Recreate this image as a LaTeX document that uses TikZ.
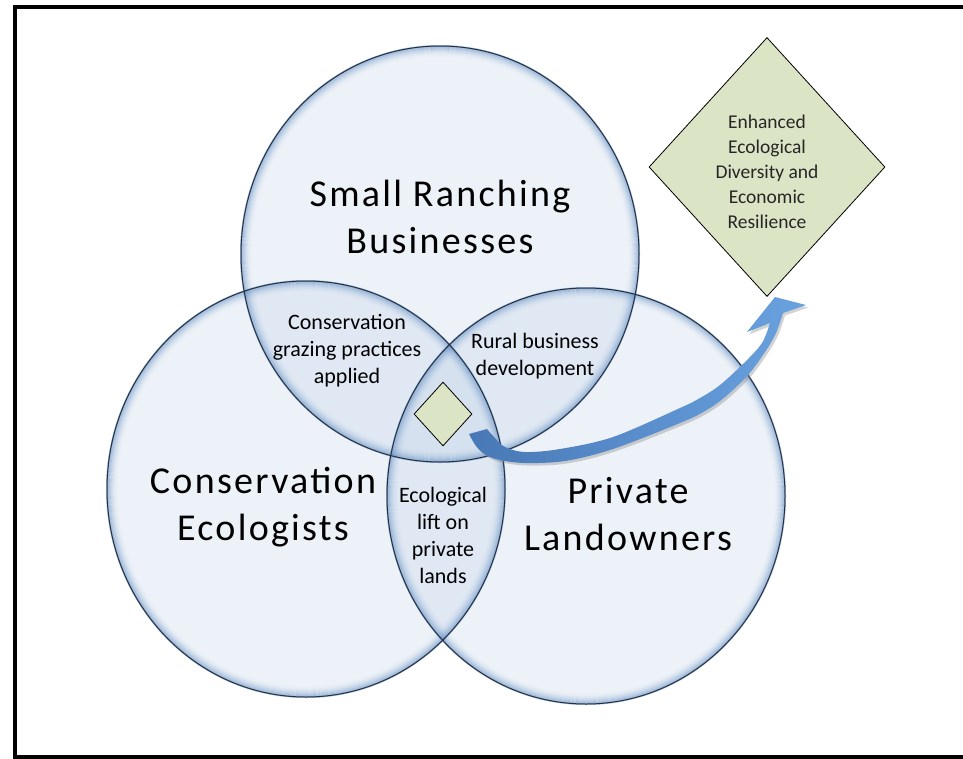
\documentclass[tikz,border=0pt]{standalone}
\usepackage{fontspec}
\setmainfont{Carlito}
\newfontfamily\bigfont[LetterSpace=6]{Carlito}
\usetikzlibrary{shapes.geometric}
\definecolor{setfill}{RGB}{185,205,230}
\definecolor{glowblue}{RGB}{79,129,189}
\definecolor{rimcol}{RGB}{40,48,64}
\definecolor{sagefill}{RGB}{220,228,198}
\definecolor{arrowdark}{RGB}{72,120,182}
\definecolor{arrowlight}{RGB}{106,162,224}

% outline of the curved block arrow
\newcommand\liftarrow{%
  plot[smooth, tension=0.55] coordinates {(469,434) (476,446) (486,455) (500,460) (525,463) (565,461) (613,449) (680,423) (705,411) (725,397) (748,375) (765,352) (776,333) (783,313)}
  -- (806,305) -- (775,297) -- (747,332) -- (770,323)
  -- plot[smooth, tension=0.55] coordinates {(770,323) (762,343) (745,362) (720,385) (700,398) (680,408) (613,437) (560,449) (525,452) (505,447) (495,438) (487,429)}
  -- cycle}

\begin{document}
\begin{tikzpicture}[x=1pt,y=-1pt,
  biglabel/.style={font=\bigfont\fontsize{38}{47}\selectfont, align=center, anchor=base, inner sep=0pt},
  smalllabel/.style={font=\fontsize{22}{27}\selectfont, align=center, anchor=base, inner sep=0pt},
  goal/.style={diamond, draw=black, line width=0.8pt, fill=sagefill, inner sep=0pt, align=center,
    text=black!85, font=\fontsize{19.5}{25}\selectfont},
  setrim/.style={rimcol, line width=1pt},
]
\useasboundingbox (0,0) rectangle (963,758);
\fill[white] (0,0) rectangle (963,758);
\clip (0,0) rectangle (963,758);

% centres of the three sets
\coordinate (cRanch) at (440,254);
\coordinate (cEco) at (306,489);
\coordinate (cLand) at (586,496);

% translucent fills
\foreach \c in {cRanch,cEco,cLand}
  \fill[setfill, opacity=0.25] (\c) ellipse [x radius=199pt, y radius=208pt];

% soft inner rim glow
\foreach \c in {cRanch,cEco,cLand}{
  \foreach \i in {0,...,11}{
    \pgfmathsetmacro{\op}{0.55*(1-\i/12)^2}
    \pgfmathsetmacro{\rx}{199.45-\i}
    \pgfmathsetmacro{\ry}{208.45-\i}
    \draw[glowblue, line width=1.1pt, opacity=\op] (\c) ellipse [x radius=\rx pt, y radius=\ry pt];
  }
}

% outlines
\foreach \c in {cRanch,cEco,cLand}
  \draw[setrim] (\c) ellipse [x radius=199pt, y radius=208pt];

% set names (anchored at the baseline of the last line)
\node[biglabel] (ranchLbl) at (440,253) {Small Ranching\\Businesses};
\node[biglabel] (ecoLbl) at (263,540) {Conservation\\Ecologists};
\node[biglabel] (landLbl) at (628,550) {Private\\Landowners};

% pairwise overlaps
\node[smalllabel] (grazeLbl) at (347,383) {Conservation\\grazing practices\\applied};
\node[smalllabel] (ruralLbl) at (535,375) {Rural business\\development};
\node[smalllabel] (liftLbl) at (443,583) {Ecological\\lift on\\private\\lands};

% outcome diamonds
\node[goal, minimum width=236pt, minimum height=259pt] (goal) at (767,167) {};
\node[align=center, text=black!85, font=\fontsize{19.5}{25}\selectfont, inner sep=0pt]
  (goalText) at (767,172) {Enhanced\\Ecological\\Diversity and\\Economic\\Resilience};
\node[goal, minimum width=58pt, minimum height=64pt] (core) at (443,414) {};

% curved arrow from the core to the outcome
\begin{scope}[shift={(2,2.5)}]
  \fill[black!50, opacity=0.35] \liftarrow;
\end{scope}
\shade[left color=arrowdark, right color=arrowlight] \liftarrow;

% frame
\draw[line width=4pt] (14.7,7.2) rectangle (970,756.5);
\end{tikzpicture}
\end{document}
